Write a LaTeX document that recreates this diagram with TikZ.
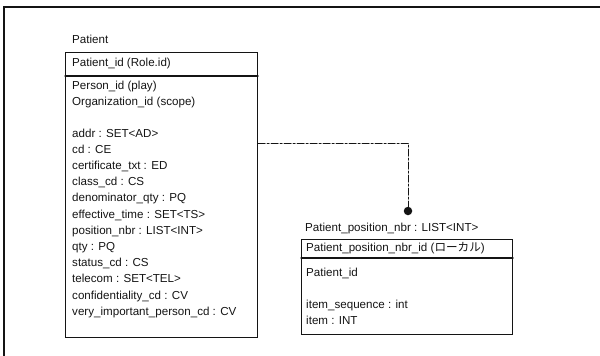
\documentclass[tikz,border=0pt]{standalone}
\usepackage{fontspec}
\setmainfont{Liberation Sans}
\newfontfamily\jpfont{Noto Sans CJK JP}
\usetikzlibrary{calc}
\definecolor{ink}{HTML}{141414}
\tikzset{
  umlbox/.style={draw=ink, line width=1.1pt, rectangle, inner sep=0pt, anchor=north west},
  attr/.style={anchor=mid west, inner sep=0pt, text=ink, font=\fontsize{11.6}{14}\selectfont},
  linkline/.style={draw=ink, line width=1pt, dash pattern=on 7pt off 2pt on 2pt off 2pt},
  linkdot/.style={circle, fill=ink, inner sep=0pt, minimum size=8.5pt}
}
\newcommand{\hsep}[2]{\draw[ink, line width=1.1pt] ($(#1.north west)+(0,#2)$) -- ($(#1.north east)+(0,#2)$);}
\begin{document}
\begin{tikzpicture}[x=1pt, y=-1pt, line cap=round]
\clip (0,0) rectangle (600,356);

% ================= frame =================
\draw[ink, line width=1.4pt] (4,380) -- (4,7) -- (620,7);

% ================= Patient =================
\node[attr] (patient-name) at (72,41) {Patient};
\node[umlbox, minimum width=192pt, minimum height=285pt] (patient) at (65,52) {};
\hsep{patient}{24}
\node[attr] (patient-key) at (72,64) {Patient\_id (Role.id)};
\node[attr] (patient-play) at (72,87) {Person\_id (play)};
\node[attr] (patient-scope) at (72,103) {Organization\_id (scope)};
\foreach \t [count=\i] in {addr : SET<AD>, cd : CE, certificate\_txt : ED, class\_cd : CS,
    denominator\_qty : PQ, effective\_time : SET<TS>, position\_nbr : LIST<INT>, qty : PQ,
    status\_cd : CS, telecom : SET<TEL>, confidentiality\_cd : CV, very\_important\_person\_cd : CV}
  \node[attr] (patient-a\i) at (72,{134.5+(\i-1)*16.2}) {\t};

% ================= Patient_position_nbr =================
\node[attr] (posnbr-name) at (305,229) {Patient\_position\_nbr : LIST<INT>};
\node[umlbox, minimum width=211pt, minimum height=95pt] (posnbr) at (301,239) {};
\hsep{posnbr}{19}
\node[attr] (posnbr-key) at (306,248.5) {Patient\_position\_nbr\_id ({\jpfont ローカル})};
\node[attr] (posnbr-fk) at (306,274) {Patient\_id};
\node[attr] (posnbr-seq) at (306,306) {item\_sequence : int};
\node[attr] (posnbr-item) at (306,322) {item : INT};

% ================= link =================
\coordinate (bend) at (408,143);
\node[linkdot] (link) at (408,211) {};
\draw[linkline] (patient.east |- bend) -- (bend) -- (link);

\end{tikzpicture}
\end{document}
